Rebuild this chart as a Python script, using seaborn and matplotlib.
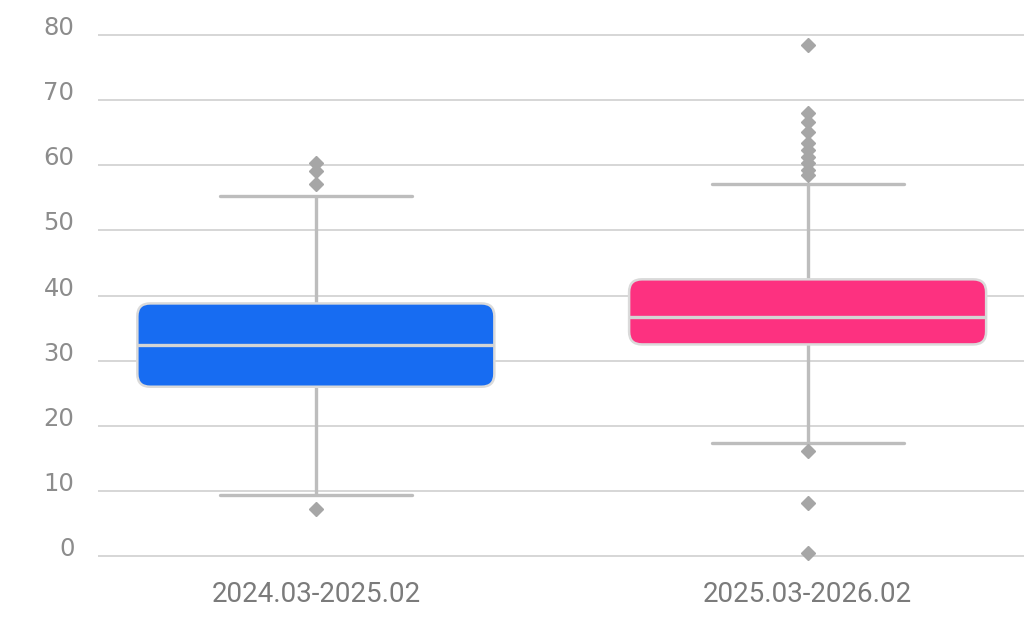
import numpy as np
import matplotlib
matplotlib.use("Agg")
import matplotlib.pyplot as plt
from matplotlib.patches import FancyBboxPatch
import seaborn as sns

# summary statistics
periods = ["2024.03-2025.02", "2025.03-2026.02"]
q1 = [26.0, 32.5]
medians = [32.4, 36.7]
q3 = [38.8, 42.5]
whisker_low = [9.4, 17.4]
whisker_high = [55.3, 57.1]
fliers = [
    [57.2, 59.1, 60.4, 7.3],
    [78.5, 68.0, 66.7, 65.2, 63.4, 62.4, 61.3, 60.3, 59.3, 58.5, 16.1, 8.2, 0.5],
]
box_colors = ["#176cf2", "#fd3180"]

sns.set_theme(style="white")

fig = plt.figure(figsize=(10.24, 6.31), dpi=100)
ax = fig.add_axes([98 / 1024, 1 - 565.8 / 631, 1 - 98 / 1024, (565.8 - 25.4) / 631])

stats = []
for i, name in enumerate(periods):
    stats.append({
        "label": name,
        "q1": q1[i],
        "med": medians[i],
        "q3": q3[i],
        "whislo": whisker_low[i],
        "whishi": whisker_high[i],
        "fliers": np.array(fliers[i]),
    })

positions = np.arange(len(periods))
box_w = 0.726
bp = ax.bxp(
    stats,
    positions=positions,
    widths=box_w,
    capwidths=0.39,
    patch_artist=True,
    showcaps=True,
    whiskerprops=dict(color="#bdbdbd", linewidth=2.4, solid_capstyle="butt"),
    capprops=dict(color="#bdbdbd", linewidth=2.4),
    medianprops=dict(color="#d4d4d4", linewidth=2.4, zorder=5),
    flierprops=dict(marker="D", markersize=7.5, markerfacecolor="#a6a6a6",
                    markeredgecolor="#a6a6a6"),
    boxprops=dict(visible=False),
)

ax.set_xlim(-0.443, 1.44)
ax.set_ylim(-1.5, 81.5)

# rounded boxes
fig.canvas.draw()
bb = ax.get_window_extent()
px_x = bb.width / (ax.get_xlim()[1] - ax.get_xlim()[0])
px_y = bb.height / (ax.get_ylim()[1] - ax.get_ylim()[0])
aspect = px_x / px_y
for i, pos in enumerate(positions):
    patch = FancyBboxPatch(
        (pos - box_w / 2, q1[i]), box_w, q3[i] - q1[i],
        boxstyle="round,pad=0,rounding_size=0.026",
        mutation_aspect=aspect,
        facecolor=box_colors[i], edgecolor="#dadada", linewidth=1.8, zorder=4,
    )
    ax.add_patch(patch)

ax.set_yticks(np.arange(0, 81, 10))
ax.yaxis.grid(True, color="#cccccc", linewidth=1.1)
ax.xaxis.grid(False)
ax.set_axisbelow(True)
for s in ax.spines.values():
    s.set_visible(False)

ax.set_xticks(positions)
ax.set_xticklabels(periods, family=["Roboto", "DejaVu Sans"], fontsize=20, color="#7b7b7b")
for lab in ax.get_yticklabels():
    lab.set_family(["DejaVu Sans"])
    lab.set_fontsize(17.5)
    lab.set_color("#8c8c8c")
    lab.set_verticalalignment("baseline")
ax.tick_params(axis="y", length=0, pad=17)
ax.tick_params(axis="x", length=0, pad=11)
ax.set_xlabel("")
ax.set_ylabel("")

fig.savefig("out.png", dpi=100)
